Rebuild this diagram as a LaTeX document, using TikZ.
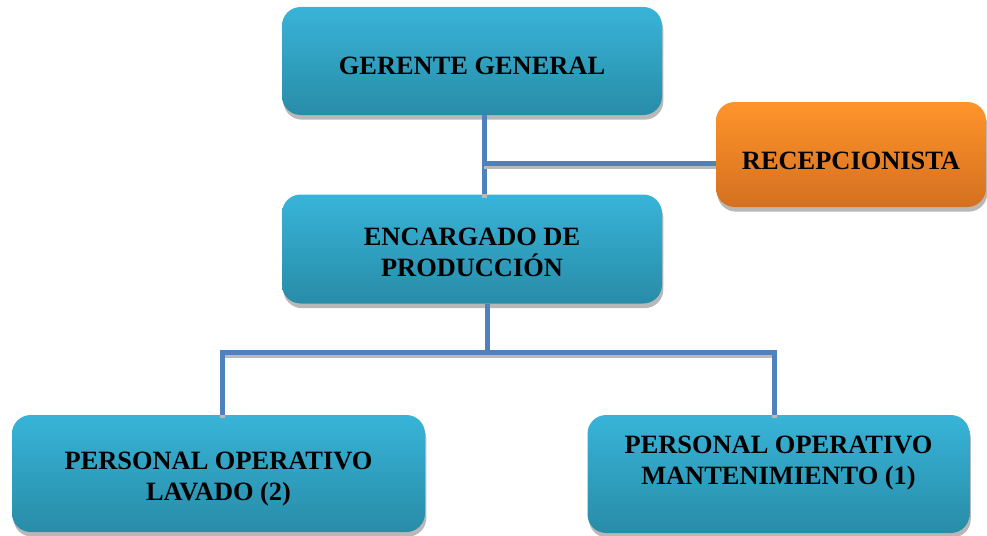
\documentclass[tikz,border=0pt]{standalone}
\usepackage{fontspec}
\setmainfont{Liberation Serif}
\usetikzlibrary{positioning, shadows}

\definecolor{tealtop}{RGB}{56,180,216}
\definecolor{tealbot}{RGB}{40,140,168}
\definecolor{orangetop}{RGB}{255,148,42}
\definecolor{orangebot}{RGB}{212,112,32}
\definecolor{linkblue}{RGB}{79,129,189}

\begin{document}
\begin{tikzpicture}[
            x=0.75pt, y=-0.75pt,
            box/.style={rectangle, rounded corners=14pt, top color=tealtop, bottom color=tealbot,
                        minimum width=285pt, minimum height=81pt,
                        drop shadow={shadow xshift=1pt, shadow yshift=-3.5pt, fill=gray!70, opacity=0.8}},
            orangebox/.style={box, top color=orangetop, bottom color=orangebot},
            boxtext/.style={align=center, inner sep=0pt, font=\fontsize{19.8}{23.25}\selectfont\bfseries},
            link/.style={draw=linkblue, line width=3.75pt, line join=miter,
                         preaction={draw=gray!55, line width=3.75pt, transform canvas={yshift=-2.5pt}}}
        ]

        \useasboundingbox (0,0) rectangle (987,535);

        % ===== TOP LEVEL =====
        \node[box] (gerente) at (472,61) {};
        \node[orangebox, minimum width=202.5pt, minimum height=78.75pt] (recep) at (851,154.5) {};

        % ===== MIDDLE LEVEL =====
        \node[box, minimum height=81.75pt] (encargado) at (472,249) {};

        % ===== BOTTOM LEVEL =====
        \node[box, minimum width=309.75pt, minimum height=87.75pt] (lavado) at (218.5,473.5) {};
        \node[box, minimum width=286.5pt, minimum height=88.5pt] (mant) at (778.5,474) {};

        % ===== TEXTS =====
        \node[boxtext] (gerente-t) at ([yshift=-3.75pt]gerente.center) {GERENTE GENERAL};
        \node[boxtext] (recep-t) at ([yshift=-5pt]recep.center) {RECEPCIONISTA};
        \node[boxtext] (encargado-t) at ([yshift=-2.75pt]encargado.center) {ENCARGADO DE\\PRODUCCIÓN};
        \node[boxtext] (lavado-t) at ([yshift=-4.5pt]lavado.center) {PERSONAL OPERATIVO\\LAVADO (2)};
        \node[boxtext] (mant-t) at ([yshift=8pt]mant.center) {PERSONAL OPERATIVO\\MANTENIMIENTO (1)};

        % ===== JUNCTIONS =====
        \coordinate (j1) at (484,163);
        \coordinate (j2) at (487,352);
        \coordinate (jl) at (222,352);
        \coordinate (jr) at (774,352);

        % ===== CONNECTORS =====
        \draw[link] (gerente.south -| j1) -- (encargado.north -| j1);
        \draw[link] (j1) -- (recep.west |- j1);
        \draw[link] (encargado.south -| j2) -- (j2);
        \draw[link] (lavado.north -| jl) -- (jl) -- (jr) -- (mant.north -| jr);

\end{tikzpicture}
\end{document}
